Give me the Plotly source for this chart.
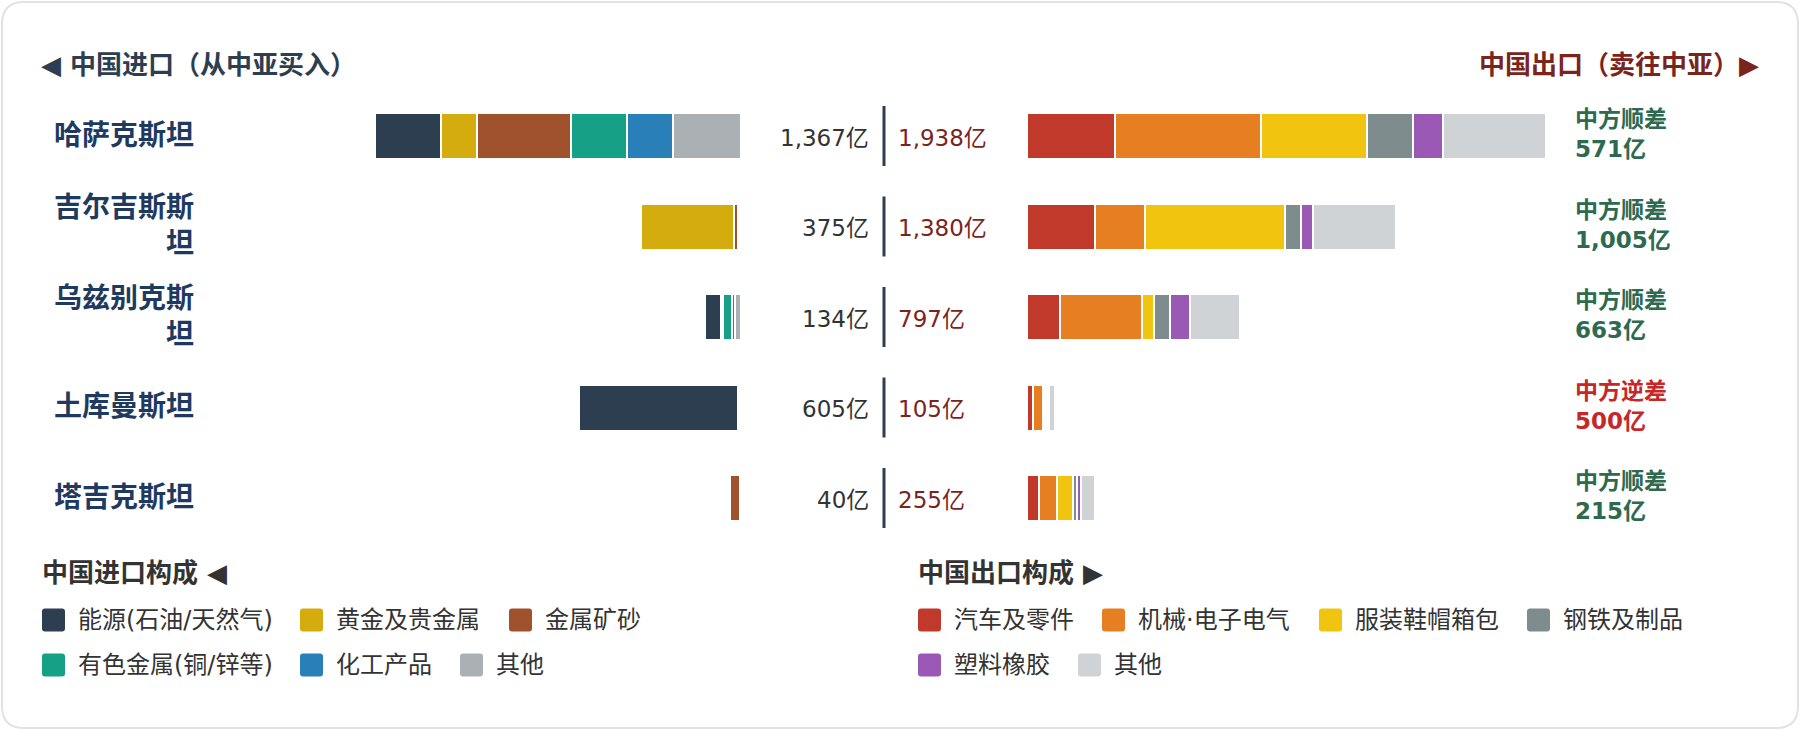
import plotly.graph_objects as go

# ---------------- data ----------------
countries = ["哈萨克斯坦", "吉尔吉斯斯坦", "乌兹别克斯坦", "土库曼斯坦", "塔吉克斯坦"]
country_labels = ["哈萨克斯坦", "吉尔吉斯斯<br>坦", "乌兹别克斯<br>坦", "土库曼斯坦", "塔吉克斯坦"]

import_cats = ["能源(石油/天然气)", "黄金及贵金属", "金属矿砂", "有色金属(铜/锌等)", "化工产品", "其他"]
import_colors = ["#2c3e50", "#d4ac0d", "#a0522d", "#16a085", "#2980b9", "#aab0b3"]
imp_energy = [245, 0, 58, 593, 0]
imp_gold = [135, 348, 3, 0, 0]
imp_ore = [352, 15, 4, 0, 36]
imp_nonferrous = [210, 4, 36, 4, 1]
imp_chem = [172, 3, 12, 3, 1]
imp_other = [253, 5, 21, 5, 2]
import_values = [imp_energy, imp_gold, imp_ore, imp_nonferrous, imp_chem, imp_other]

export_cats = ["汽车及零件", "机械·电子电气", "服装鞋帽箱包", "钢铁及制品", "塑料橡胶", "其他"]
export_colors = ["#c0392b", "#e67e22", "#f1c40f", "#7f8c8d", "#9b59b6", "#cfd3d6"]
exp_auto = [328, 254, 125, 22, 45]
exp_machinery = [545, 187, 305, 38, 67]
exp_apparel = [396, 523, 45, 8, 60]
exp_steel = [172, 60, 60, 8, 15]
exp_plastic = [112, 45, 75, 7, 15]
exp_other = [385, 311, 187, 22, 53]
export_values = [exp_auto, exp_machinery, exp_apparel, exp_steel, exp_plastic, exp_other]

import_totals = [sum(v) for v in zip(*import_values)]
export_totals = [sum(v) for v in zip(*export_values)]
balances = [e - i for e, i in zip(export_totals, import_totals)]

# ---------------- layout helpers ----------------
W, H = 1800, 730
FONT = "DejaVu Sans, Noto Sans CJK SC, sans-serif"


def px(x):
    return x / W


def py(y):
    return 1 - y / H


S = 0.2677            # pixels per 亿
IMP_ZERO, EXP_ZERO = 741, 1027
Y_TOP, Y_BOT = 90.75, 543.25
ROW = (Y_BOT - Y_TOP) / len(countries)


def rrect(x0, y0, w, h, r):
    x1, y1 = x0 + w, y0 + h
    pts = [
        ("M", [(x0 + r, y0)]), ("L", [(x1 - r, y0)]), ("Q", [(x1, y0), (x1, y0 + r)]),
        ("L", [(x1, y1 - r)]), ("Q", [(x1, y1), (x1 - r, y1)]),
        ("L", [(x0 + r, y1)]), ("Q", [(x0, y1), (x0, y1 - r)]),
        ("L", [(x0, y0 + r)]), ("Q", [(x0, y0), (x0 + r, y0)]),
    ]
    s = ""
    for cmd, ps in pts:
        s += cmd + " ".join(f"{px(a):.6f},{py(b):.6f}" for a, b in ps) + " "
    return s + "Z"


fig = go.Figure()

# imports: "其他" nearest zero, energy outermost
for cat, col, vals in reversed(list(zip(import_cats, import_colors, import_values))):
    fig.add_trace(go.Bar(
        y=countries, x=vals, orientation="h", name=cat,
        marker=dict(color=col, line=dict(color="white", width=2)),
        width=46 / ROW, xaxis="x", yaxis="y", showlegend=False,
        hovertemplate="%{y} " + cat + ": %{x}亿<extra></extra>"))

for cat, col, vals in zip(export_cats, export_colors, export_values):
    fig.add_trace(go.Bar(
        y=countries, x=vals, orientation="h", name=cat,
        marker=dict(color=col, line=dict(color="white", width=2)),
        width=46 / ROW, xaxis="x2", yaxis="y", showlegend=False,
        hovertemplate="%{y} " + cat + ": %{x}亿<extra></extra>"))

ann = []
shapes = []

# card border
shapes.append(dict(type="path", path=rrect(2, 2, 1796, 726, 22), xref="paper", yref="paper",
                   line=dict(color="#e2e2e2", width=2), fillcolor="rgba(0,0,0,0)", layer="below"))

# headers
ann.append(dict(text="◀ 中国进口（从中亚买入）", x=px(39), y=py(65), xanchor="left", yanchor="middle",
                font=dict(size=26, color="#2c3e50", family=FONT, weight="bold")))
ann.append(dict(text="中国出口（卖往中亚）▶", x=px(1761), y=py(65), xanchor="right", yanchor="middle",
                font=dict(size=26, color="#7b241c", family=FONT, weight="bold")))

for i, c in enumerate(countries):
    ann.append(dict(text=country_labels[i], x=px(196), xanchor="right", align="right",
                    y=i, yref="y", yanchor="middle", yshift=1,
                    font=dict(size=28, color="#1f3a5f", family=FONT, weight="bold")))
    ann.append(dict(text=f"{import_totals[i]:,}亿", x=px(871), xanchor="right", y=i, yref="y",
                    yanchor="middle", yshift=-1.5, font=dict(size=23, color="#333333", family=FONT)))
    ann.append(dict(text=f"{export_totals[i]:,}亿", x=px(896), xanchor="left", y=i, yref="y",
                    yanchor="middle", yshift=-1.5, font=dict(size=23, color="#7b241c", family=FONT)))
    b = balances[i]
    bcol = "#2d6a4f" if b >= 0 else "#c62828"
    word = "中方顺差" if b >= 0 else "中方逆差"
    ann.append(dict(text=f"{word}<br>{abs(b):,}亿", x=px(1573), xanchor="left", align="left",
                    y=i, yref="y", yanchor="middle", yshift=2,
                    font=dict(size=23, color=bcol, family=FONT, weight="bold")))
    shapes.append(dict(type="line", xref="paper", yref="y", x0=px(884), x1=px(884),
                       y0=i - 30 / ROW, y1=i + 30 / ROW, line=dict(color="#2c3e50", width=3)))

# legends
ann.append(dict(text="中国进口构成 ◀", x=px(40), y=py(573), xanchor="left", yanchor="middle",
                font=dict(size=26, color="#333333", family=FONT, weight="bold")))
ann.append(dict(text="中国出口构成 ▶", x=px(916), y=py(573), xanchor="left", yanchor="middle",
                font=dict(size=26, color="#333333", family=FONT, weight="bold")))

imp_leg_pos = [(42, 620), (300, 620), (509, 620), (42, 665), (300, 665), (460, 665)]
exp_leg_pos = [(918, 620), (1102, 620), (1319, 620), (1527, 620), (918, 665), (1078, 665)]
for cats, cols, pos in ((import_cats, import_colors, imp_leg_pos), (export_cats, export_colors, exp_leg_pos)):
    for cat, col, (lx, ly) in zip(cats, cols, pos):
        shapes.append(dict(type="path", path=rrect(lx, ly - 11.5, 23, 23, 3), xref="paper", yref="paper",
                           line=dict(width=0), fillcolor=col))
        ann.append(dict(text=cat, x=px(lx + 34), y=py(ly), xanchor="left", yanchor="middle",
                        font=dict(size=24, color="#333333", family=FONT)))

for a in ann:
    a.setdefault("xref", "paper")
    a.setdefault("yref", "paper")
    a["showarrow"] = False

fig.update_layout(
    width=W, height=H, margin=dict(l=0, r=0, t=0, b=0),
    paper_bgcolor="white", plot_bgcolor="white",
    barmode="stack", showlegend=False,
    font=dict(family=FONT),
    xaxis=dict(domain=[px(300), px(IMP_ZERO)], range=[(IMP_ZERO - 300) / S, 0], visible=False,
               fixedrange=True),
    xaxis2=dict(domain=[px(EXP_ZERO), px(1600)], range=[0, (1600 - EXP_ZERO) / S], visible=False,
                anchor="y", fixedrange=True),
    yaxis=dict(domain=[py(Y_BOT), py(Y_TOP)], type="category", categoryorder="array",
               categoryarray=countries, range=[len(countries) - 0.5, -0.5], visible=False,
               fixedrange=True),
    annotations=ann, shapes=shapes,
)

fig.write_html("out.html")
